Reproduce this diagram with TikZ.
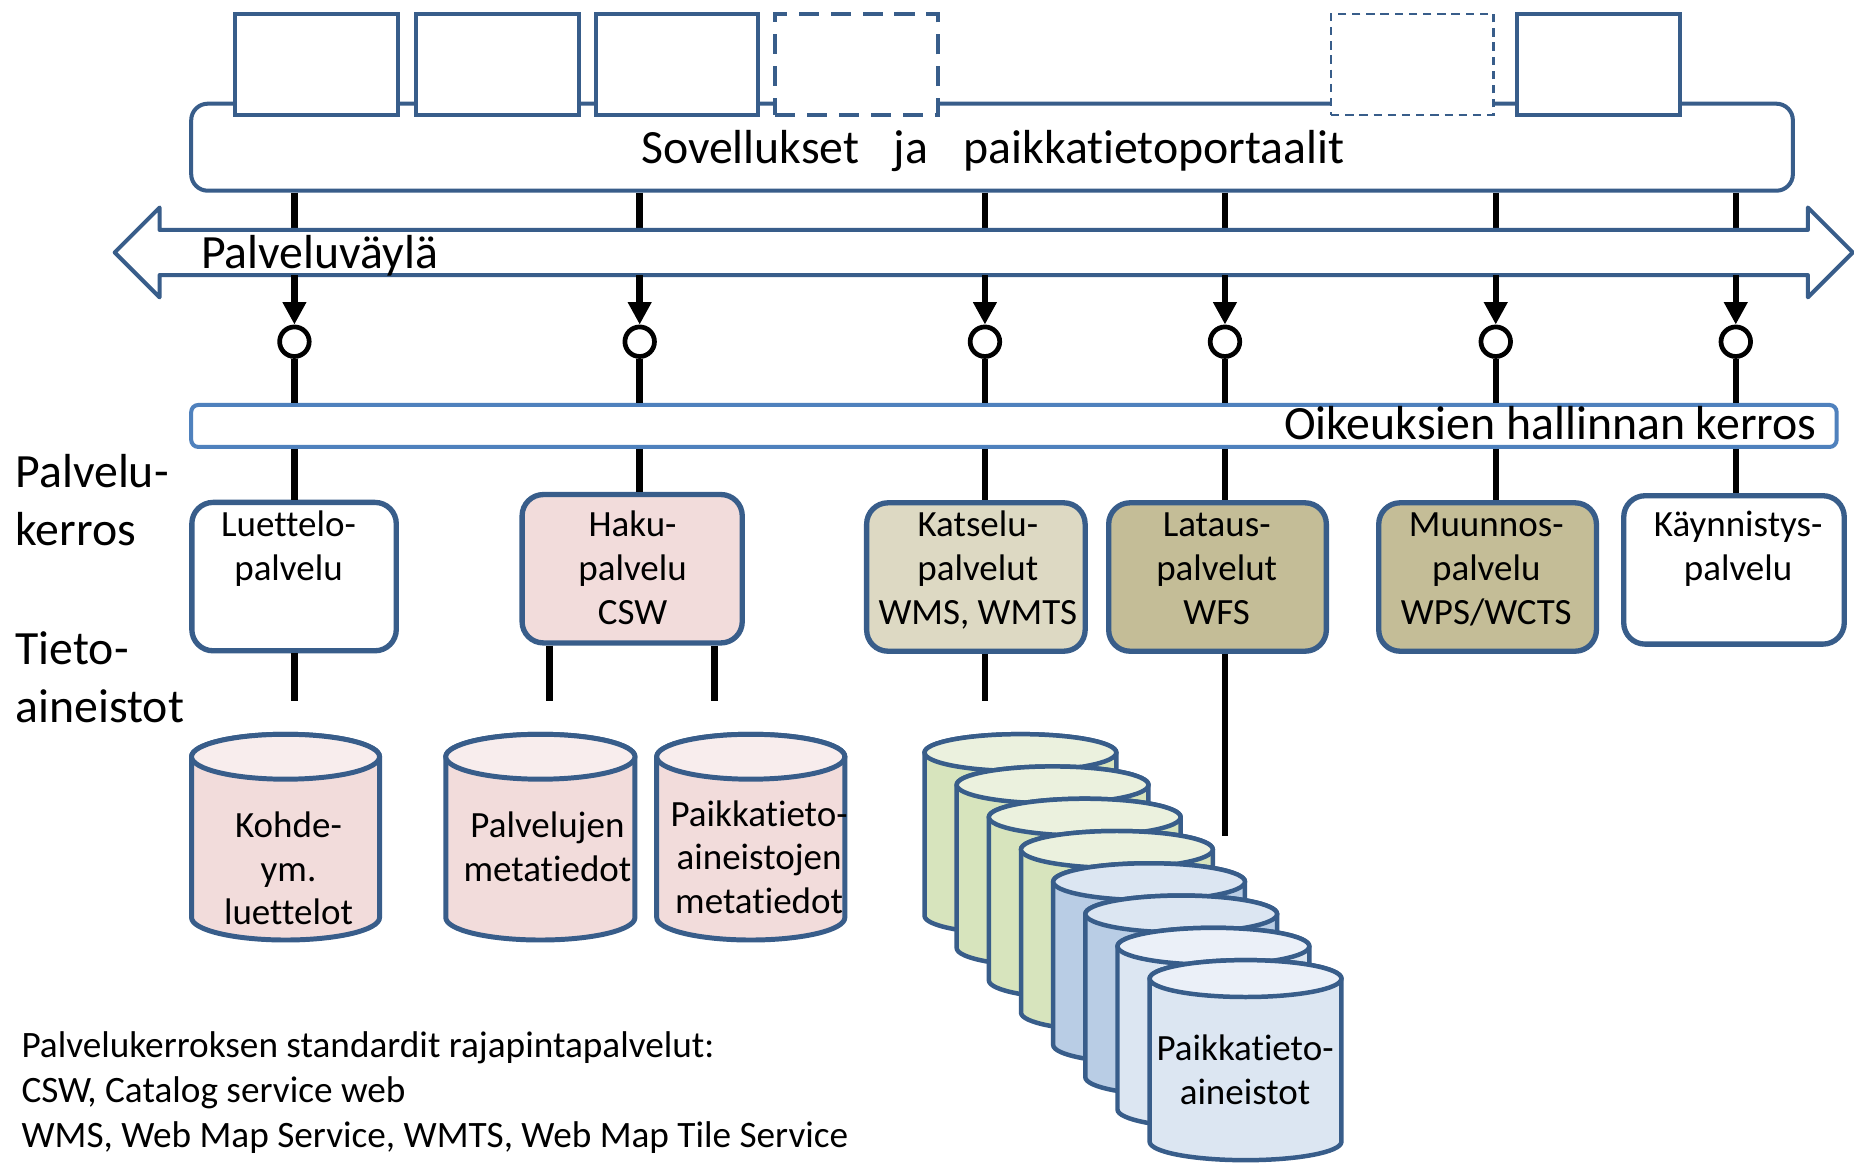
\documentclass[tikz,border=0pt]{standalone}
\usepackage{fontspec}
\setmainfont{Carlito}[Ligatures=NoCommon]
\usetikzlibrary{arrows.meta,calc}
\definecolor{dblue}{HTML}{385D8A}
\definecolor{oblue}{HTML}{4F81BD}
\definecolor{pinkb}{HTML}{F2DCDB}
\definecolor{pinkt}{HTML}{F8EDED}
\definecolor{tanl}{HTML}{DDD9C3}
\definecolor{tand}{HTML}{C4BD97}
\definecolor{grnb}{HTML}{D7E4BD}
\definecolor{grnt}{HTML}{EBF1DE}
\definecolor{blub}{HTML}{B9CDE5}
\definecolor{blut}{HTML}{DCE6F2}
\definecolor{lblb}{HTML}{DCE6F2}
\definecolor{lblt}{HTML}{EBF0F8}
\newcommand\cylshape[8]{%
  \pgfmathsetmacro\cylrx{(#2-#1)/2}%
  \pgfmathsetmacro\cylcx{(#1+#2)/2}%
  \filldraw[draw=dblue, line width=#8, fill=#7, line join=round] (#1,-#3-#5) -- (#1,-#4+#5) arc[start angle=180, end angle=360, x radius=\cylrx, y radius=#5] -- (#2,-#3-#5) arc[start angle=0, end angle=180, x radius=\cylrx, y radius=#5] -- cycle;
  \filldraw[draw=dblue, line width=#8, fill=#6] (\cylcx,-#3-#5) ellipse[x radius=\cylrx, y radius=#5];
}
\tikzset{
  appbox/.style={draw=dblue, line width=3.4pt, fill=white, inner sep=0pt, minimum width=137.6pt, minimum height=85.6pt},
  svc/.style={draw=dblue, line width=4.5pt, rounded corners=18pt, inner sep=0pt, minimum height=125.5pt},
  conn/.style={line width=5.5pt, black},
  circ/.style={circle, draw=black, line width=4pt, fill=white, minimum size=25pt, inner sep=0pt},
  svtxt/.style={font=\fontsize{31.3}{37}\selectfont, align=center, inner sep=0pt, anchor=north},
  bigtxt/.style={font=\fontsize{40.4}{49}\selectfont, inner sep=0pt},
  bottxt/.style={font=\fontsize{31.5}{38}\selectfont, align=left, inner sep=0pt, anchor=north west},
}
\begin{document}
\begin{tikzpicture}[x=1pt, y=1pt]
\useasboundingbox (0,0) rectangle (1568,-987);
\fill[white] (0,0) rectangle (1568,-987);

% column coordinates
\coordinate (c1) at (249,0);
\coordinate (c2) at (541,0);
\coordinate (c3) at (833,0);
\coordinate (c4) at (1036,0);
\coordinate (c5) at (1265,0);
\coordinate (c6) at (1468,0);
\coordinate (busT) at (0,-194.5);
\coordinate (busB) at (0,-232.6);

\node[draw=dblue, line width=3.4pt, rounded corners=14pt, minimum width=1354.6pt, minimum height=73.6pt, inner sep=0pt, fill=white] (portal) at (839,-124.5) {};

\node[appbox] (a1) at (267.5,-54.5) {};
\node[appbox] (a2) at (420.5,-54.5) {};
\node[appbox] (a3) at (572.5,-54.5) {};
\node[appbox, dash pattern=on 17pt off 10pt] (a4) at (724.5,-54.5) {};
\node[appbox, line width=2.2pt, dash pattern=on 7pt off 5pt] (a5) at (1194.5,-54.5) {};
\node[appbox] (a6) at (1351.8,-54.5) {};

\node[anchor=base west, bigtxt] (portaltxt) at (542,-138) {Sovellukset\hspace{29pt}ja\hspace{30pt}paikkatietoportaalit};

% connectors portal -> bus
\foreach \c in {c1,c2,c3,c4,c5,c6} {
  \draw[conn] (\c |- portal.south) -- (\c |- busT);
}

% bus
\draw[draw=dblue, line width=3.4pt, fill=white, line join=round]
  (97,-213.5) -- (135,-175.5) -- (135,-194.5) -- (1529,-194.5) -- (1529,-175.5) -- (1567,-213.5)
  -- (1529,-251.5) -- (1529,-232.6) -- (135,-232.6) -- (135,-251.5) -- cycle;
\node[anchor=base west, bigtxt] (bustxt) at (170,-227) {Palveluväylä};

% rights layer bar
\node[draw=oblue, line width=3.4pt, rounded corners=6pt, minimum width=1391.6pt, minimum height=35.5pt, inner sep=0pt] (oik) at (857.5,-360.25) {};
\node[anchor=base east, bigtxt] (oiktxt) at (1536.5,-372) {Oikeuksien hallinnan kerros};

% circles
\node[circ] (o1) at (249,-289) {};
\node[circ] (o2) at (541,-289) {};
\node[circ] (o3) at (833,-289) {};
\node[circ] (o4) at (1036,-289) {};
\node[circ] (o5) at (1265,-289) {};
\node[circ] (o6) at (1468,-289) {};

\foreach \i in {1,...,6} {
  \draw[conn, -{Triangle[length=19pt, width=19pt]}] (c\i |- busB) -- (o\i.north);
  \draw[conn] (o\i.south) -- (o\i.south |- oik.north);
}

% service boxes
\node[svc, fill=white, minimum width=172.9pt] (s1) at (248.7,-487.65) {};
\node[svc, fill=pinkb, minimum width=186.2pt] (s2) at (534.65,-481) {};
\node[svc, fill=tanl, minimum width=184.8pt] (s3) at (825.35,-488) {};
\node[svc, fill=tand, minimum width=184.1pt] (s4) at (1029.7,-488) {};
\node[svc, fill=tand, minimum width=184.1pt] (s5) at (1258.1,-488) {};
\node[svc, fill=white, minimum width=186.5pt] (s6) at (1466.5,-482) {};

\draw[conn] (c1 |- oik.south) -- (c1 |- s1.north);
\draw[conn] (c2 |- oik.south) -- (c2 |- s2.north);
\draw[conn] (c3 |- oik.south) -- (c3 |- s3.north);
\draw[conn] (c4 |- oik.south) -- (c4 |- s4.north);
\draw[conn] (c5 |- oik.south) -- (c5 |- s5.north);
\draw[conn] (c6 |- oik.south) -- (c6 |- s6.north);

\node[svtxt] (t1) at (244,-428) {\strut Luettelo-\\palvelu};
\node[svtxt] (t2) at (535,-428) {\strut Haku-\\palvelu\\CSW};
\node[svtxt] (t3) at (827,-428) {\strut Katselu-\\palvelut\\WMS, WMTS};
\node[svtxt] (t4) at (1029,-428) {\strut Lataus-\\palvelut\\WFS};
\node[svtxt] (t5) at (1257,-428) {\strut Muunnos-\\palvelu\\WPS/WCTS};
\node[svtxt] (t6) at (1470,-428) {\strut Käynnistys-\\palvelu};

% left labels
\node[bigtxt, anchor=north west, align=left] (lab1) at (13,-377.7) {\strut Palvelu-\\kerros};
\node[bigtxt, anchor=north west, align=left] (lab2) at (13,-527.7) {\strut Tieto-\\aineistot};

% lines down to data
\coordinate (d1) at (249,-593);
\coordinate (d2) at (464.6,-593);
\coordinate (d3) at (604.4,-593);
\coordinate (d4) at (833,-593);
\coordinate (d5) at (1036,-707);
\draw[conn] (d1 |- s1.south) -- (d1);
\draw[conn] (d2 |- s2.south) -- (d2);
\draw[conn] (d3 |- s2.south) -- (d3);
\draw[conn] (d4 |- s3.south) -- (d4);
\draw[conn] (d5 |- s4.south) -- (d5);

% pink cylinders
\cylshape{162}{321}{621}{795}{19}{pinkt}{pinkb}{4.2pt}
\cylshape{377}{537}{621}{795}{19}{pinkt}{pinkb}{4.2pt}
\cylshape{555.4}{714.5}{621}{795}{19}{pinkt}{pinkb}{4.2pt}
\node[svtxt] (k1) at (244,-682.1) {\strut Kohde-\\ym.\\luettelot};
\node[svtxt] (k2) at (463,-682.1) {\strut Palvelujen\\metatiedot};
\node[svtxt] (k3) at (642,-672.5) {\strut Paikkatieto-\\aineistojen\\metatiedot};

% stack of data cylinders
\cylshape{781.9}{944.1}{620.9}{790.1}{15.6}{grnt}{grnb}{3.8pt}
\cylshape{809.1}{971.3}{648.2}{817.4}{15.6}{grnt}{grnb}{3.8pt}
\cylshape{836.3}{998.5}{675.5}{844.7}{15.6}{grnt}{grnb}{3.8pt}
\cylshape{863.5}{1025.7}{702.8}{872}{15.6}{grnt}{grnb}{3.8pt}
\cylshape{890.7}{1052.9}{730.1}{899.3}{15.6}{blut}{blub}{3.8pt}
\cylshape{917.9}{1080.1}{757.4}{926.6}{15.6}{blut}{blub}{3.8pt}
\cylshape{945.1}{1107.3}{784.7}{953.9}{15.6}{lblt}{lblb}{3.8pt}
\cylshape{972.3}{1134.5}{812}{981.2}{15.6}{lblt}{lblb}{3.8pt}
\node[svtxt] (k4) at (1053,-870.6) {\strut Paikkatieto-\\aineistot};

% bottom legend
\node[bottxt] (legend) at (18,-867.4) {\strut Palvelukerroksen standardit rajapintapalvelut:\\CSW, Catalog service web\\WMS, Web Map Service, WMTS, Web Map Tile Service};
\end{tikzpicture}
\end{document}
